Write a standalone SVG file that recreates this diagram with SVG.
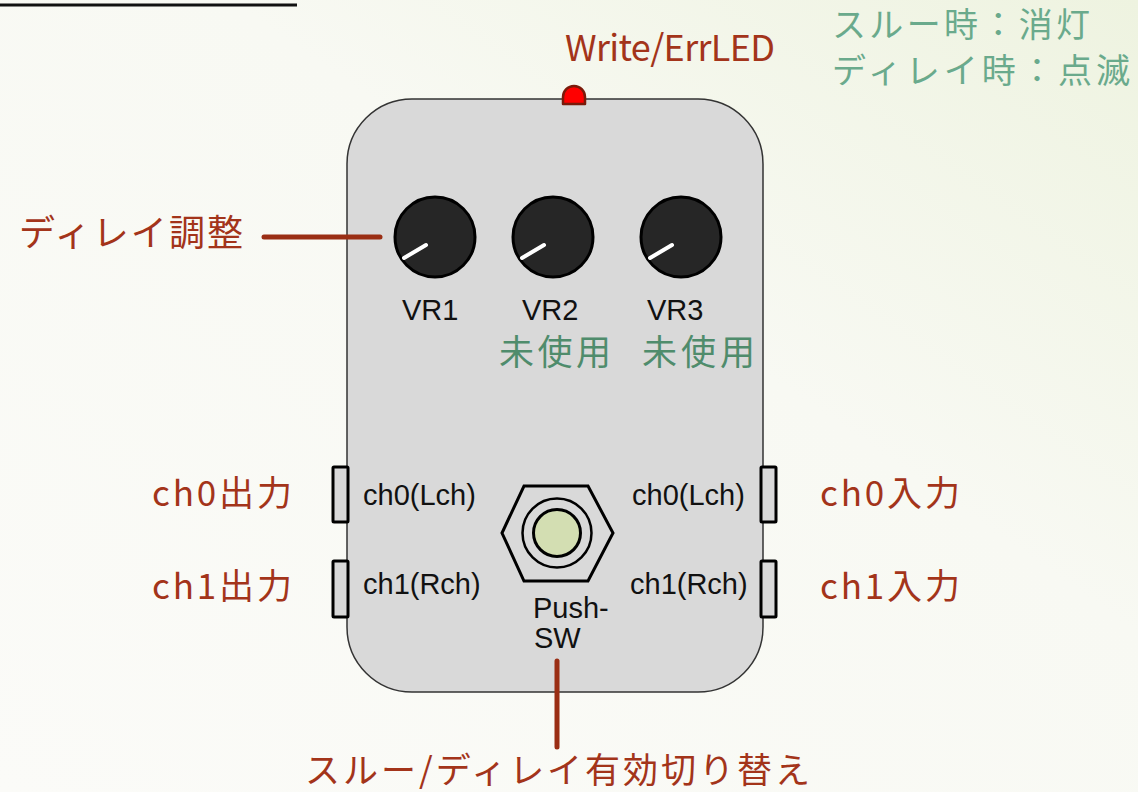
<svg xmlns="http://www.w3.org/2000/svg" width="1138" height="792" viewBox="0 0 1138 792">
  <defs>
    <linearGradient id="bg" x1="0" y1="1" x2="1" y2="0">
      <stop offset="0" stop-color="#fbfbf8"/>
      <stop offset="0.6" stop-color="#f8f9f3"/>
      <stop offset="1" stop-color="#eef3e0"/>
    </linearGradient>
    <style>
      .jp { font-family: "Noto Sans CJK JP", "Noto Sans", sans-serif; }
      .red { fill: #a3341a; }
      .grn { fill: #4f8c6c; }
      .grn2 { fill: #6aaa8c; }
      .lat { font-family: "Liberation Sans", Arial, sans-serif; font-size: 29px; fill: #111; }
      .lead { stroke: #9a2e14; stroke-width: 5; stroke-linecap: round; fill: none; }
      .knob { fill: #262626; stroke: #000; stroke-width: 3; }
      .ptr { stroke: #fff; stroke-width: 4; stroke-linecap: round; }
      .jack { fill: #d9d9d9; stroke: #000; stroke-width: 3; }
    </style>
  </defs>

  <!-- background -->
  <rect x="0" y="0" width="1138" height="792" fill="url(#bg)"/>
  <line x1="0" y1="5" x2="297" y2="5" stroke="#111" stroke-width="3"/>

  <!-- pedal body -->
  <g id="body">
    <rect x="347" y="99" width="416" height="593" rx="65" ry="65" fill="#d9d9d9" stroke="#333" stroke-width="1.5"/>
  </g>

  <!-- status LED -->
  <g id="led">
    <path d="M563,104 V97 A11,11 0 0 1 585,97 V104 Z" fill="#ff0000" stroke="#7a1a0a" stroke-width="2.5" stroke-linejoin="round"/>
    <text class="jp red" x="565" y="61" font-size="36" textLength="210" lengthAdjust="spacing">Write/ErrLED</text>
  </g>

  <g id="led-note">
    <text class="jp grn2" x="832" y="37" font-size="34" textLength="258" lengthAdjust="spacing">スルー時：消灯</text>
    <text class="jp grn2" x="832" y="83" font-size="34" textLength="298" lengthAdjust="spacing">ディレイ時：点滅</text>
  </g>

  <!-- potentiometers -->
  <g id="vr1">
    <circle class="knob" cx="435" cy="237" r="40"/>
    <line class="ptr" x1="404" y1="258" x2="426" y2="245"/>
    <text class="lat" x="402" y="320">VR1</text>
  </g>
  <g id="vr2">
    <circle class="knob" cx="553" cy="237" r="40"/>
    <line class="ptr" x1="522" y1="258" x2="544" y2="245"/>
    <text class="lat" x="522" y="320">VR2</text>
    <text class="jp grn" x="499" y="365" font-size="35" textLength="112" lengthAdjust="spacing">未使用</text>
  </g>
  <g id="vr3">
    <circle class="knob" cx="681" cy="237" r="40"/>
    <line class="ptr" x1="650" y1="258" x2="672" y2="245"/>
    <text class="lat" x="647" y="320">VR3</text>
    <text class="jp grn" x="642" y="365" font-size="35" textLength="113" lengthAdjust="spacing">未使用</text>
  </g>

  <!-- jacks -->
  <g id="out-ch0">
    <rect class="jack" x="333" y="467" width="15" height="55" rx="1"/>
    <text class="lat" x="363" y="505">ch0(Lch)</text>
    <text class="jp red" x="152" y="506" font-size="35" textLength="140" lengthAdjust="spacing">ch0出力</text>
  </g>
  <g id="out-ch1">
    <rect class="jack" x="333" y="561" width="15" height="56" rx="1"/>
    <text class="lat" x="363" y="594">ch1(Rch)</text>
    <text class="jp red" x="152" y="599" font-size="35" textLength="140" lengthAdjust="spacing">ch1出力</text>
  </g>
  <g id="in-ch0">
    <rect class="jack" x="761" y="467" width="15" height="55" rx="1"/>
    <text class="lat" x="632" y="505">ch0(Lch)</text>
    <text class="jp red" x="820" y="506" font-size="35" textLength="140" lengthAdjust="spacing">ch0入力</text>
  </g>
  <g id="in-ch1">
    <rect class="jack" x="761" y="561" width="15" height="56" rx="1"/>
    <text class="lat" x="630" y="594">ch1(Rch)</text>
    <text class="jp red" x="820" y="599" font-size="35" textLength="140" lengthAdjust="spacing">ch1入力</text>
  </g>

  <!-- footswitch -->
  <g id="push-sw">
    <polygon points="502,533 524,486 588,486 613,533 588,581 524,581" fill="none" stroke="#000" stroke-width="3" stroke-linejoin="miter"/>
    <circle cx="557" cy="533" r="34.5" fill="none" stroke="#000" stroke-width="2.5"/>
    <circle cx="557" cy="533" r="23.5" fill="#d3deb2" stroke="#000" stroke-width="3"/>
    <text class="lat" x="533" y="618">Push-</text>
    <text class="lat" x="534" y="648">SW</text>
  </g>

  <g id="delay-label">
    <text class="jp red" x="19" y="246" font-size="36" textLength="224" lengthAdjust="spacing">ディレイ調整</text>
  </g>

  <g id="switch-label">
    <text class="jp red" x="305" y="783" font-size="35" textLength="505" lengthAdjust="spacing">スルー/ディレイ有効切り替え</text>
  </g>

  <!-- leader lines -->
  <g id="connectors">
    <line class="lead" x1="264" y1="237" x2="380" y2="237"/>
    <line class="lead" x1="557" y1="661" x2="557" y2="747"/>
  </g>
</svg>
